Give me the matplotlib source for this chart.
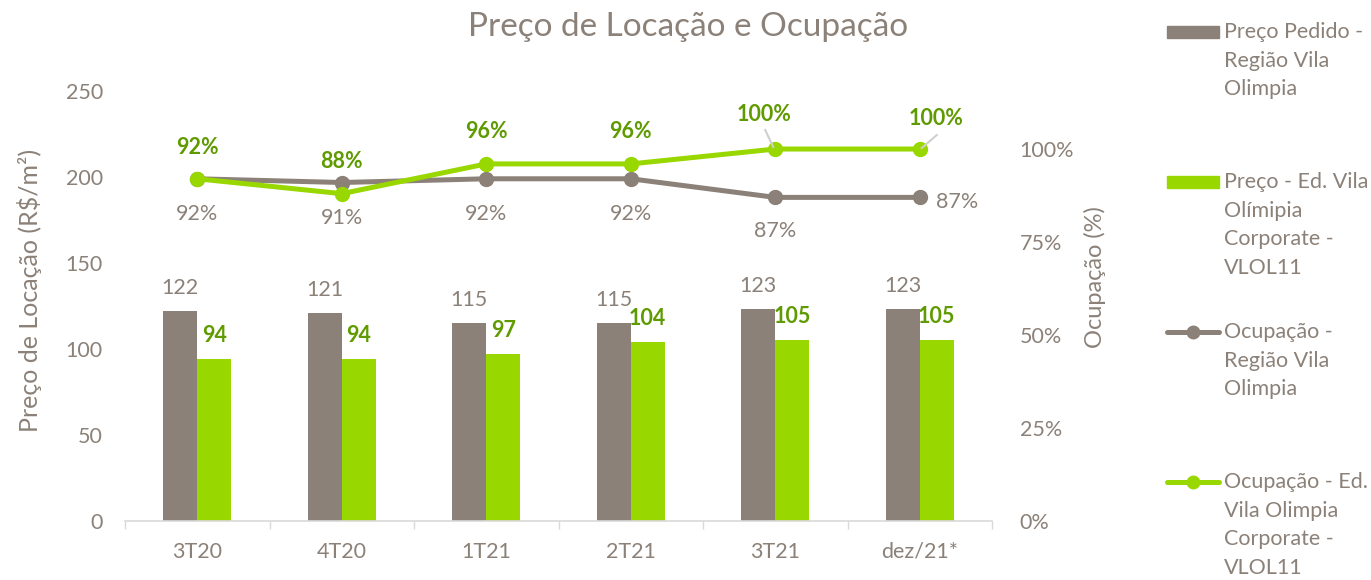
import matplotlib.pyplot as plt
import numpy as np
from matplotlib.patches import Rectangle
from matplotlib.lines import Line2D
from matplotlib.ticker import PercentFormatter

plt.rcParams['font.family'] = ['Lato', 'DejaVu Sans']

# dados
periodos = ['3T20', '4T20', '1T21', '2T21', '3T21', 'dez/21*']
preco_regiao = [122, 121, 115, 115, 123, 123]
preco_vlol = [94, 94, 97, 104, 105, 105]
ocup_regiao = [0.92, 0.91, 0.92, 0.92, 0.87, 0.87]
ocup_vlol = [0.92, 0.88, 0.96, 0.96, 1.00, 1.00]

cinza = '#8B8178'
verde = '#99D700'
verde_esc = '#5F9B00'
cinza_claro = '#D9D9D9'
fs = 15.5

fig = plt.figure(figsize=(13.71, 5.8), dpi=100)
ax = fig.add_axes([125 / 1371, 59 / 580, 867 / 1371, 430 / 580])
ax2 = ax.twinx()

x = np.arange(len(periodos))
w = 0.235
ax.bar(x - w / 2, preco_regiao, w, color=cinza)
ax.bar(x + w / 2, preco_vlol, w, color=verde)

for xi, v in zip(x, preco_regiao):
    ax.annotate(str(v), (xi - w / 2, v), xytext=(0, 23), textcoords='offset pixels',
                ha='center', va='center', color=cinza, fontsize=fs)
for xi, v in zip(x, preco_vlol):
    ax.annotate(str(v), (xi + w / 2, v), xytext=(0, 24), textcoords='offset pixels',
                ha='center', va='center', color=verde_esc, fontsize=fs, fontweight='bold')

ax.set_xlim(-0.5, len(periodos) - 0.5)
ax.set_ylim(0, 250)
ax.set_yticks([0, 50, 100, 150, 200, 250])
ax.set_xticks(x)
ax.set_xticklabels(periodos)
ax.set_xticks(np.arange(-0.5, len(periodos)), minor=True)
ax.tick_params(axis='x', which='major', length=0, pad=15, labelsize=fs, labelcolor=cinza)
ax.tick_params(axis='x', which='minor', length=6, color=cinza_claro, width=1)
ax.tick_params(axis='y', length=0, pad=16, labelsize=fs, labelcolor=cinza)

# linhas de ocupação
ax2.plot(x, ocup_regiao, color=cinza, lw=3.6, marker='o', ms=10, solid_capstyle='round')
ax2.plot(x, ocup_vlol, color=verde, lw=3.6, marker='o', ms=10, solid_capstyle='round')
ax2.set_ylim(0, 1.156)
ax2.set_yticks([0, 0.25, 0.5, 0.75, 1.0])
ax2.yaxis.set_major_formatter(PercentFormatter(1.0, decimals=0))
ax2.tick_params(axis='y', length=0, pad=20, labelsize=fs, labelcolor=cinza)

off_regiao = [(0, -35), (0, -35), (0, -35), (0, -35), (0, -34), (37, -5)]
for xi, v, o in zip(x, ocup_regiao, off_regiao):
    ax2.annotate(f'{v:.0%}', (xi, v), xytext=o, textcoords='offset pixels',
                 ha='center', va='center', color=cinza, fontsize=fs)

off_vlol = [(0, 31), (0, 32), (0, 32), (0, 32), (-11, 35), (16, 31)]
for xi, v, o in zip(x, ocup_vlol, off_vlol):
    ax2.annotate(f'{v:.0%}', (xi, v), xytext=o, textcoords='offset pixels',
                 ha='center', va='center', color=verde_esc, fontsize=fs, fontweight='bold')

# linhas de chamada dos dois últimos rótulos
guias = {4: ((-10, 19), (-2, 2)), 5: ((17, 14), (2, 1))}
for i, (ini, fim) in guias.items():
    p0 = ax2.transData.transform((x[i], ocup_vlol[i]))
    a = ax2.transData.inverted().transform(p0 + np.array(ini) * [1, 1])
    b = ax2.transData.inverted().transform(p0 + np.array(fim))
    ax2.plot([a[0], b[0]], [a[1], b[1]], color='#CFCFCF', lw=1.5, zorder=5)

for a in (ax, ax2):
    for s in ['top', 'left', 'right']:
        a.spines[s].set_visible(False)
ax2.spines['bottom'].set_visible(False)
ax.spines['bottom'].set_color(cinza_claro)
ax.spines['bottom'].set_linewidth(1.2)

fig.text(688 / 1371, 1 - 27 / 580, 'Preço de Locação e Ocupação', ha='center', va='center',
         fontsize=24, color=cinza)
fig.text(30 / 1371, 1 - 290 / 580, 'Preço de Locação (R$/m²)', rotation=90,
         ha='center', va='center', fontsize=18, color=cinza)
fig.text(1095 / 1371, 1 - 277 / 580, 'Ocupação (%)', rotation=90,
         ha='center', va='center', fontsize=17, color=cinza)

# legenda (desenhada à mão, uma linha de texto por vez)
leg_itens = [
    ('bar', cinza, ['Preço Pedido -', 'Região Vila', 'Olimpia'], 32),
    ('bar', verde, ['Preço - Ed. Vila', 'Olímipia', 'Corporate -', 'VLOL11'], 182),
    ('line', cinza, ['Ocupação -', 'Região Vila', 'Olimpia'], 332),
    ('line', verde, ['Ocupação - Ed.', 'Vila Olimpia', 'Corporate -', 'VLOL11'], 482),
]
for tipo, cor, linhas, yp in leg_itens:
    yf = 1 - yp / 580
    if tipo == 'bar':
        fig.patches.append(Rectangle((1167 / 1371, yf - 6 / 580), 52 / 1371, 12 / 580,
                                     transform=fig.transFigure, color=cor))
    else:
        fig.lines.append(Line2D([1167 / 1371, 1219 / 1371], [yf, yf], transform=fig.transFigure,
                                color=cor, lw=3.6, solid_capstyle='round'))
        fig.lines.append(Line2D([1193 / 1371], [yf], transform=fig.transFigure,
                                color=cor, marker='o', ms=9))
    for k, t in enumerate(linhas):
        fig.text(1224 / 1371, 1 - (yp + 28.7 * k) / 580, t, ha='left', va='center',
                 fontsize=fs, color=cinza)

fig.savefig('out.png', dpi=100)
